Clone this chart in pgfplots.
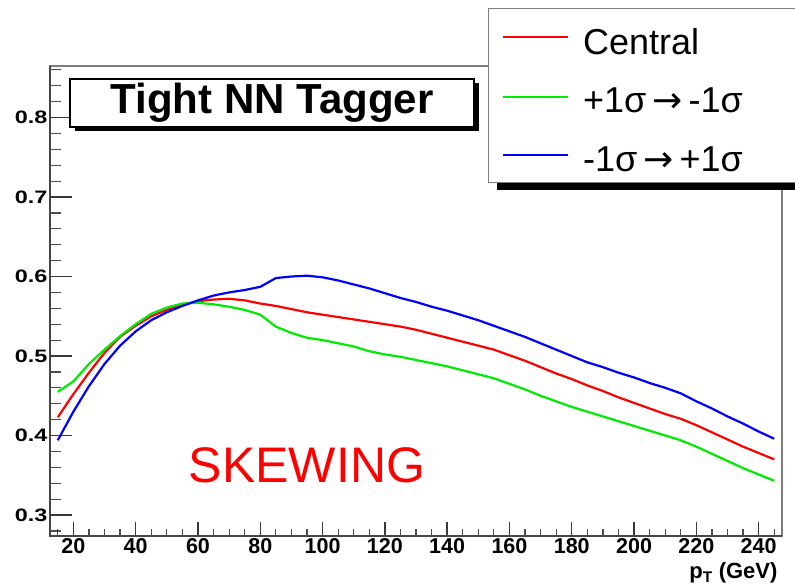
\documentclass[border=0pt]{standalone}
\usepackage{fontspec}
\setmainfont{Liberation Sans}
\newfontfamily\djv{DejaVu Sans}
\newfontfamily\wideticks[FakeStretch=1.3]{Liberation Sans}
\usepackage{pgfplots}
\usepackage{pgfplotstable}
\pgfplotsset{compat=1.18}
\usetikzlibrary{shadows}

\definecolor{rootred}{RGB}{255,0,0}
\definecolor{rootgreen}{RGB}{0,235,0}
\definecolor{rootblue}{RGB}{0,0,255}
\definecolor{framegray}{RGB}{125,125,125}

% efficiency vs pT (bins of 5 GeV)
\pgfplotstableread{
pt  central plus  minus
15  0.423  0.455  0.394
20  0.452  0.468  0.430
25  0.479  0.490  0.462
30  0.504  0.508  0.490
35  0.524  0.525  0.513
40  0.538  0.540  0.531
45  0.550  0.553  0.545
50  0.558  0.561  0.555
55  0.564  0.566  0.563
60  0.569  0.567  0.570
65  0.571  0.565  0.576
70  0.572  0.562  0.580
75  0.570  0.558  0.583
80  0.566  0.552  0.587
85  0.563  0.537  0.598
90  0.559  0.529  0.600
95  0.555  0.523  0.601
100 0.552  0.520  0.599
105 0.549  0.516  0.595
110 0.546  0.512  0.590
115 0.543  0.506  0.585
120 0.540  0.502  0.579
125 0.537  0.499  0.573
130 0.533  0.495  0.568
135 0.528  0.491  0.562
140 0.523  0.487  0.557
145 0.518  0.482  0.551
150 0.513  0.477  0.545
155 0.508  0.472  0.538
160 0.501  0.465  0.531
165 0.494  0.458  0.524
170 0.486  0.450  0.516
175 0.478  0.443  0.508
180 0.471  0.436  0.500
185 0.463  0.430  0.492
190 0.456  0.424  0.486
195 0.448  0.418  0.479
200 0.441  0.412  0.473
205 0.434  0.406  0.466
210 0.427  0.400  0.460
215 0.421  0.394  0.453
220 0.413  0.386  0.443
225 0.404  0.377  0.434
230 0.395  0.368  0.424
235 0.386  0.359  0.415
240 0.378  0.351  0.405
245 0.370  0.343  0.396
}\effdata

\pgfplotsset{
  rootax/.style={
    scale only axis, width=732pt, height=470pt,
    at={(50pt,49pt)}, anchor=south west,
    xmin=12.5, xmax=247.5, ymin=0.2736, ymax=0.8648,
    axis line style={draw=none},
    tick pos=left, tick align=inside,
    tick style={draw=gray!45!black, line width=1.4pt},
    minor tick style={draw=gray!60!black, line width=1.2pt},
    /pgf/number format/assume math mode=true,
  },
}

\begin{document}
\begin{tikzpicture}
  % x ticks
  \begin{axis}[rootax, name=ax,
      xtick={20,40,...,240},
      minor xtick={15,25,30,35,45,50,55,65,70,75,85,90,95,105,110,115,125,130,135,145,150,155,165,170,175,185,190,195,205,210,215,225,230,235,245},
      ytick=\empty,
      xticklabel style={font=\bfseries\fontsize{21.5}{21.5}\selectfont, yshift=1pt},
      major tick length=14pt, minor tick length=7pt]
  \end{axis}

  % frame, ROOT style
  \draw[framegray, line width=1.6pt] (ax.south west) rectangle (ax.north east);
  \draw[gray!55!black, line width=2.4pt] (ax.north west) -- (ax.south west) -- (ax.south east);

  % legend pave with its shadow (cut by the picture edge)
  \fill[black] (497pt,395pt) rectangle (830pt,402pt);
  \filldraw[draw=framegray, line width=1pt, fill=white] (488pt,402pt) rectangle (830pt,576pt);
  \draw[rootred, line width=1.6pt] (503pt,548pt) -- (568pt,548pt);
  \draw[rootgreen, line width=1.6pt] (503pt,488pt) -- (568pt,488pt);
  \draw[rootblue, line width=1.6pt] (503pt,430pt) -- (568pt,430pt);
  \begin{scope}[every node/.style={anchor=base west, inner sep=0pt, font=\fontsize{36}{36}\selectfont}]
    \node at (583pt,530pt) {Central};
    \node at (583pt,472pt) {+1σ\,{\djv →}\,-1σ};
    \node at (583pt,413pt) {-1σ\,{\djv →}\,+1σ};
  \end{scope}

  % y ticks and curves
  \begin{axis}[rootax,
      xtick=\empty,
      ytick={0.3,0.4,0.5,0.6,0.7,0.8},
      minor ytick={0.28,0.32,0.34,0.36,0.38,0.42,0.44,0.46,0.48,0.52,0.54,0.56,0.58,0.62,0.64,0.66,0.68,0.72,0.74,0.76,0.78,0.82,0.84,0.86},
      yticklabel style={/pgf/number format/fixed, /pgf/number format/precision=1,
        font=\wideticks\bfseries\fontsize{18}{18}\selectfont, xshift=1pt},
      major tick length=22pt, minor tick length=11pt,
    ]
    \addplot[draw=rootred, line width=2.2pt] table[x=pt, y=central] {\effdata};
    \addplot[draw=rootgreen, line width=2.2pt] table[x=pt, y=plus] {\effdata};
    \addplot[draw=rootblue, line width=2.2pt] table[x=pt, y=minus] {\effdata};
  \end{axis}

  % title box
  \node[draw=black, line width=1.5pt, fill=white,
        general shadow={fill=black, shadow xshift=4.5pt, shadow yshift=-4.5pt},
        minimum width=404pt, minimum height=48pt, inner sep=0pt,
        font=\bfseries\fontsize{42}{42}\selectfont] at (272pt,482pt) {Tight NN Tagger};

  \node[text=rootred, font=\fontsize{50}{50}\selectfont] at (307pt,120pt) {SKEWING};

  \node[anchor=east, font=\bfseries\fontsize{22}{22}\selectfont] at (781pt,12pt) {p\textsubscript{T} (GeV)};

  \pgfresetboundingbox
  \path[use as bounding box] (0pt,0pt) rectangle (795pt,585pt);
\end{tikzpicture}
\end{document}
